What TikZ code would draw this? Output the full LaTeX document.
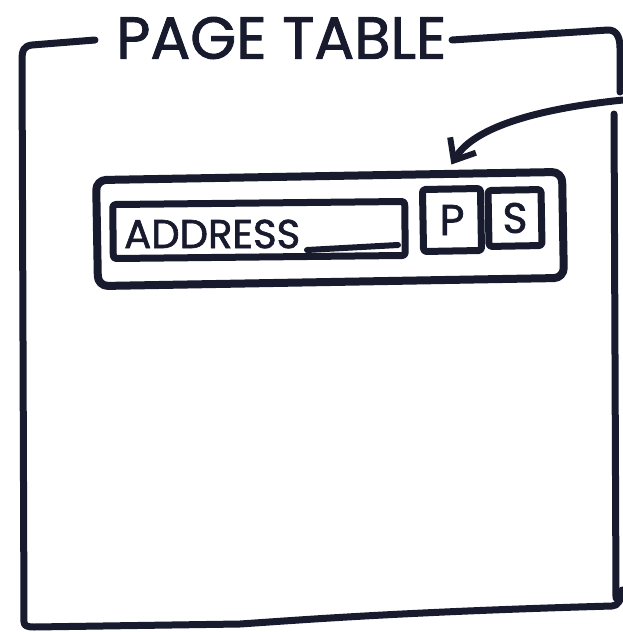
\documentclass[tikz,border=0pt]{standalone}
\usepackage{fontspec}
\setmainfont{Poppins}
\newfontfamily\medfont{Poppins}[FakeBold=1.6]
\usetikzlibrary{arrows.meta}
\definecolor{inkc}{RGB}{24,26,46}
\begin{document}
\begin{tikzpicture}[x=1pt,y=-1pt,
  ink/.style={draw=inkc,line width=7pt,line cap=round,line join=round},
  rowbox/.style={ink,rounded corners=10pt,inner sep=0pt},
  cellbox/.style={ink,rounded corners=3pt,inner sep=0pt},
  lbl/.style={text=inkc,inner sep=0pt,anchor=west,font=\medfont}]
\useasboundingbox[fill=white] (0,0) rectangle (623,632);
% frame corners
\coordinate (ftl) at (95,40);
\coordinate (ftr) at (452,40);
\coordinate (fre) at (620,92);
\coordinate (frs) at (614,114);
\coordinate (frb) at (616,598);
\coordinate (fbr) at (622,590);
% frame
\draw[ink] (ftl) -- (32,45) .. controls (24,46) and (22,50) .. (22,60) -- (24,622) .. controls (24,626) and (28,627) .. (34,627)
  -- (240,624) .. controls (300,620) and (400,612) .. (612,606) .. controls (618,606) and (621,600) .. (fbr);
\draw[ink] (ftr) -- (608,30) .. controls (616,30) and (620,36) .. (620,48) -- (fre);
\draw[ink] (frs) -- (frb);
% title
\node[lbl] (title) at (116,38) {\resizebox{330pt}{!}{PAGE TABLE}};
% row
\node[rowbox,line width=8pt,minimum width=466pt,minimum height=106pt,rotate=1] (row) at (330,229) {};
\node[cellbox,minimum width=292pt,minimum height=54pt,rotate=0.6] (addr) at (259,230) {};
\node[lbl] (addrtxt) at (124,234) {\resizebox{176pt}{!}{ADDRESS}};
\coordinate (uls) at (307,250);
\coordinate (ule) at (398,245);
\draw[ink,line width=6pt] (uls) -- (ule);
\node[cellbox,minimum width=58pt,minimum height=62pt,rotate=1] (P) at (452,220) {};
\node[text=inkc,inner sep=0pt,font=\medfont] (Ptxt) at (P.center) {\resizebox{!}{30pt}{P}};
\node[cellbox,minimum width=53pt,minimum height=56pt,rotate=1] (S) at (515,218) {};
\node[text=inkc,inner sep=0pt,font=\medfont] (Stxt) at (S.center) {\resizebox{!}{30pt}{S}};
% arrow
\coordinate (arrs) at (623,100);
\draw[ink,-{Straight Barb[length=18pt,width=30pt,line width=6pt]}] (arrs) .. controls (545,108) and (475,125) .. ([yshift=21pt]P.north);
\end{tikzpicture}
\end{document}
